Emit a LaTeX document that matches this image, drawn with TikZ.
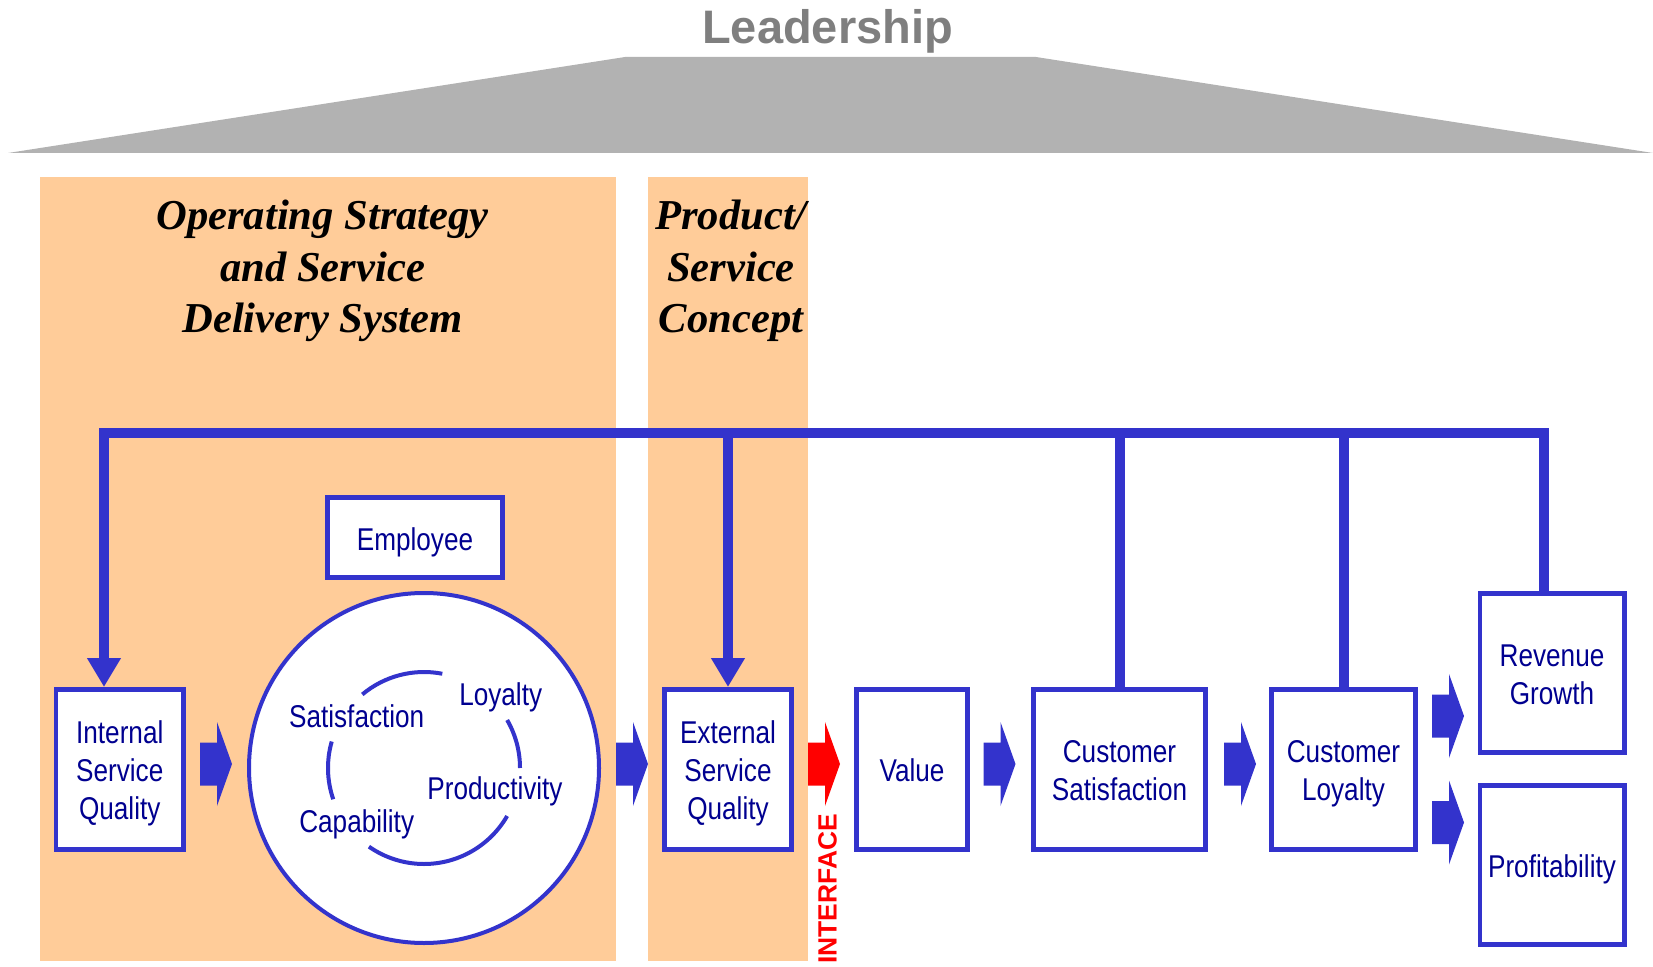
\documentclass[tikz,border=0pt]{standalone}
\usepackage{fontspec}
\setmainfont{Liberation Sans}
\newfontfamily\boxfont[FakeStretch=0.83]{Liberation Sans}
\newfontfamily\seriffont{Liberation Serif}
\usetikzlibrary{arrows.meta,calc}
\definecolor{fbblue}{HTML}{3333CC}
\definecolor{txtblue}{HTML}{000090}
\definecolor{orangebg}{HTML}{FFCC99}
\definecolor{roofgray}{HTML}{B2B2B2}
\definecolor{headgray}{HTML}{7F7F7F}
\newcommand\blkarrow[3]{%
  \fill[#3] (#1-16,#2-21.5) -- (#1+1,#2-21.5) -- (#1+1,#2-42) -- (#1+16,#2)
    -- (#1+1,#2+42) -- (#1+1,#2+21.5) -- (#1-16,#2+21.5) -- cycle;}
\tikzset{
  box/.style={draw=fbblue, line width=2.35pt, fill=white, inner sep=0pt},
  boxtext/.style={inner sep=0pt, align=center, text=txtblue, yshift=-2.5pt,
    font=\boxfont\fontsize{15.75pt}{19pt}\selectfont},
  ctext/.style={inner sep=0pt, text=txtblue, font=\boxfont\fontsize{15.75pt}{19pt}\selectfont},
  titletext/.style={inner sep=0pt, align=center, text=black,
    font=\seriffont\bfseries\itshape\fontsize{21.3pt}{25.8pt}\selectfont},
  fb/.style={draw=fbblue, line width=5pt, line join=miter},
  fbtip/.style={-{Triangle[width=16pt,length=14.5pt]}},
  cyc/.style={draw=fbblue, line width=2pt},
}
\begin{document}
\begin{tikzpicture}[x=0.5pt,y=-0.5pt]
\useasboundingbox (0,0) rectangle (1653,967);
% roof
\fill[roofgray] (625,57) -- (1036,57) -- (1653,153) -- (8,153) -- cycle;
\node[inner sep=0pt, anchor=base, text=headgray, font=\bfseries\fontsize{23.5pt}{28pt}\selectfont] (lead) at (827.6,43.5) {Leadership};
% panels
\fill[orangebg] (40,177) rectangle (616,961);
\fill[orangebg] (648,177) rectangle (807.5,961);
\node[titletext] (t1) at (322.6,271) {Operating Strategy\\and Service\\Delivery System};
\node[titletext] (t2) at (731,271) {Product/\\Service\\Concept};
% boxes
\node[box, minimum width=63.9pt, minimum height=79.9pt] (isq) at (119.75,769.25) {};
\node[box, minimum width=87.65pt, minimum height=40.15pt] (emp) at (415,537.5) {};
\node[circle, draw=fbblue, line width=2pt, fill=white, minimum size=175pt, inner sep=0pt] (circ) at (424,768) {};
\node[box, minimum width=63.65pt, minimum height=79.9pt] (esq) at (728,769.25) {};
\node[box, minimum width=55.65pt, minimum height=79.9pt] (val) at (912,769.25) {};
\node[box, minimum width=86.15pt, minimum height=79.9pt] (cs) at (1119.5,769.25) {};
\node[box, minimum width=72.15pt, minimum height=79.9pt] (cl) at (1343.5,769.25) {};
\node[box, minimum width=72.15pt, minimum height=79.8pt] (rg) at (1552,673) {};
\node[box, minimum width=72.15pt, minimum height=79.8pt] (pr) at (1552,865) {};
% box texts
\node[boxtext] (isqT) at (isq.center) {\strut Internal\\\strut Service\\\strut Quality};
\node[boxtext] (empT) at (emp.center) {\strut Employee};
\node[boxtext] (esqT) at (esq.center) {\strut External\\\strut Service\\\strut Quality};
\node[boxtext] (valT) at (val.center) {\strut Value};
\node[boxtext] (csT) at (cs.center) {\strut Customer\\\strut Satisfaction};
\node[boxtext] (clT) at (cl.center) {\strut Customer\\\strut Loyalty};
\node[boxtext] (rgT) at (rg.center) {\strut Revenue\\\strut Growth};
\node[boxtext] (prT) at (pr.center) {\strut Profitability};
% inner cycle
\draw[cyc] ($(circ.center)+(-79:96)$) arc[start angle=-79, end angle=-130, radius=96];
\draw[cyc] ($(circ.center)+(0:96)$) arc[start angle=0, end angle=-30, radius=96];
\draw[cyc] ($(circ.center)+(30:96)$) arc[start angle=30, end angle=125, radius=96];
\draw[cyc] ($(circ.center)+(-164:96)$) arc[start angle=-164, end angle=-199, radius=96];
\node[ctext] (sat) at (356.7,716) {Satisfaction};
\node[ctext] (loy) at (500.7,697.5) {Loyalty};
\node[ctext] (prod) at (495,791.5) {Productivity};
\node[ctext] (cap) at (356.7,824.5) {Capability};
% feedback lines
\coordinate (topL) at (104,433);
\coordinate (topR) at (1544,433);
\draw[fb, fbtip] (rg.north -| topR) -- (topR) -- (topL) -- (topL |- isq.north);
\draw[fb, fbtip] (esq.north |- topL) -- (esq.north);
\draw[fb] (cs.north) -- (cs.north |- topL);
\draw[fb] (cl.north) -- (cl.north |- topL);
% block arrows
\blkarrow{216}{764}{fbblue}
\blkarrow{632}{764}{fbblue}
\blkarrow{824}{764}{red}
\blkarrow{999.5}{764}{fbblue}
\blkarrow{1240}{764}{fbblue}
\blkarrow{1448}{716}{fbblue}
\blkarrow{1448}{822.5}{fbblue}
\node[inner sep=0pt, rotate=90, text=red, font=\bfseries\fontsize{13.2pt}{16pt}\selectfont] (iface) at (827.5,889) {INTERFACE};
\end{tikzpicture}
\end{document}
